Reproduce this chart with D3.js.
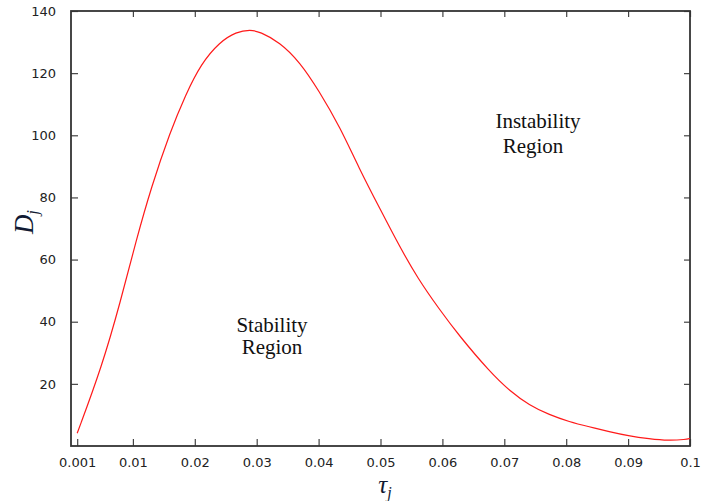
<!DOCTYPE html>
<html>
<head>
<meta charset="utf-8">
<script src="https://cdn.jsdelivr.net/npm/d3@7"></script>
<style>
  body { margin: 0; background: #fff; }
</style>
</head>
<body>
<div id="chart"></div>
<script>
// values
var tau = [0.001, 0.005, 0.008, 0.0105, 0.013, 0.016, 0.0185, 0.021, 0.024, 0.0267,
  0.029, 0.0305, 0.0337, 0.037, 0.040, 0.0435, 0.0465, 0.050, 0.053, 0.056,
  0.0595, 0.0627, 0.0676, 0.071, 0.074, 0.0773, 0.0805, 0.0837, 0.087,
  0.090, 0.0934, 0.0966, 0.0993, 0.1];
var D = [4.1, 25.6, 46.5, 66, 83.5, 101, 113, 123, 130, 133.3,
  134, 133.3, 130, 123.5, 114.5, 102.5, 89.5, 76, 64.5, 54,
  44, 35.5, 24, 17.5, 13.2, 10, 7.8, 6.2, 4.6,
  3.3, 2.3, 1.7, 2.1, 2.4];

var xTicks = [0.001, 0.01, 0.02, 0.03, 0.04, 0.05, 0.06, 0.07, 0.08, 0.09, 0.1];
var xTickLabels = ["0.001", "0.01", "0.02", "0.03", "0.04", "0.05", "0.06", "0.07", "0.08", "0.09", "0.1"];
var yTicks = [20, 40, 60, 80, 100, 120, 140];

var svgWidth = 702, svgHeight = 501;
var margin = { top: 11, right: 12, bottom: 55, left: 71 };
var width = svgWidth - margin.left - margin.right;
var height = svgHeight - margin.top - margin.bottom;

var svg = d3.select("#chart").append("svg")
  .attr("width", svgWidth)
  .attr("height", svgHeight);

var chartGroup = svg.append("g")
  .attr("transform", `translate(${margin.left}, ${margin.top})`);

var xScale = d3.scaleLinear().domain([0, 0.1]).range([0, width]);
var yScale = d3.scaleLinear().domain([0, 140]).range([height, 0]);

var tickFont = "'DejaVu Sans', sans-serif";

// bottom axis, ticks pointing inward
var xAxis = d3.axisBottom(xScale)
  .tickValues(xTicks)
  .tickFormat((d, i) => xTickLabels[i])
  .tickSizeInner(-7)
  .tickSizeOuter(0)
  .tickPadding(12);
var gx = chartGroup.append("g")
  .attr("transform", `translate(0, ${height})`)
  .call(xAxis);

var yAxis = d3.axisLeft(yScale)
  .tickValues(yTicks)
  .tickSizeInner(-7)
  .tickSizeOuter(0)
  .tickPadding(15);
var gy = chartGroup.append("g").call(yAxis);

// mirrored ticks on top and right
var gt = chartGroup.append("g")
  .call(d3.axisTop(xScale).tickValues(xTicks.slice(1)).tickSizeInner(-6).tickSizeOuter(0).tickFormat(""));
var gr = chartGroup.append("g")
  .attr("transform", `translate(${width}, 0)`)
  .call(d3.axisRight(yScale).tickValues(yTicks).tickSizeInner(-6).tickSizeOuter(0).tickFormat(""));

[gx, gy, gt, gr].forEach(function(g) {
  g.select(".domain").remove();
  g.selectAll(".tick line").attr("stroke", "#444").attr("stroke-width", 1.2);
  g.selectAll(".tick text")
    .attr("font-family", tickFont)
    .attr("font-size", "13px")
    .attr("fill", "#222");
});

// frame
chartGroup.append("rect")
  .attr("x", 0).attr("y", 0)
  .attr("width", width).attr("height", height)
  .attr("fill", "none")
  .attr("stroke", "#333")
  .attr("stroke-width", 1.8);

// curve
var line = d3.line()
  .x((d, i) => xScale(tau[i]))
  .y(d => yScale(d))
  .curve(d3.curveBasis);

chartGroup.append("path")
  .datum(D)
  .attr("d", line)
  .attr("fill", "none")
  .attr("stroke", "#ff1a1a")
  .attr("stroke-width", 1.2);

// region labels
var serif = "'Liberation Serif', 'Times New Roman', serif";
var labels = [
  { t: "Instability", x: 538, y: 128 },
  { t: "Region", x: 533, y: 153 },
  { t: "Stability", x: 272, y: 332 },
  { t: "Region", x: 272, y: 354 }
];
svg.selectAll("text.region")
  .data(labels)
  .enter()
  .append("text")
  .attr("class", "region")
  .attr("x", d => d.x)
  .attr("y", d => d.y)
  .attr("text-anchor", "middle")
  .attr("font-family", serif)
  .attr("font-size", "21px")
  .attr("fill", "#111")
  .text(d => d.t);

// axis titles
var xt = svg.append("text")
  .attr("x", 385)
  .attr("y", 493)
  .attr("text-anchor", "middle")
  .attr("font-family", serif)
  .attr("font-style", "italic")
  .attr("font-size", "25px")
  .attr("fill", "#111a33");
xt.append("tspan").text("τ");
xt.append("tspan").attr("font-size", "16px").attr("dy", 5).text("j");

var yt = svg.append("text")
  .attr("transform", "translate(33, 222) rotate(-90)")
  .attr("text-anchor", "middle")
  .attr("font-family", serif)
  .attr("font-style", "italic")
  .attr("font-size", "27px")
  .attr("fill", "#111a33");
yt.append("tspan").text("D");
yt.append("tspan").attr("font-size", "17px").attr("dy", 5).text("j");
</script>
</body>
</html>
